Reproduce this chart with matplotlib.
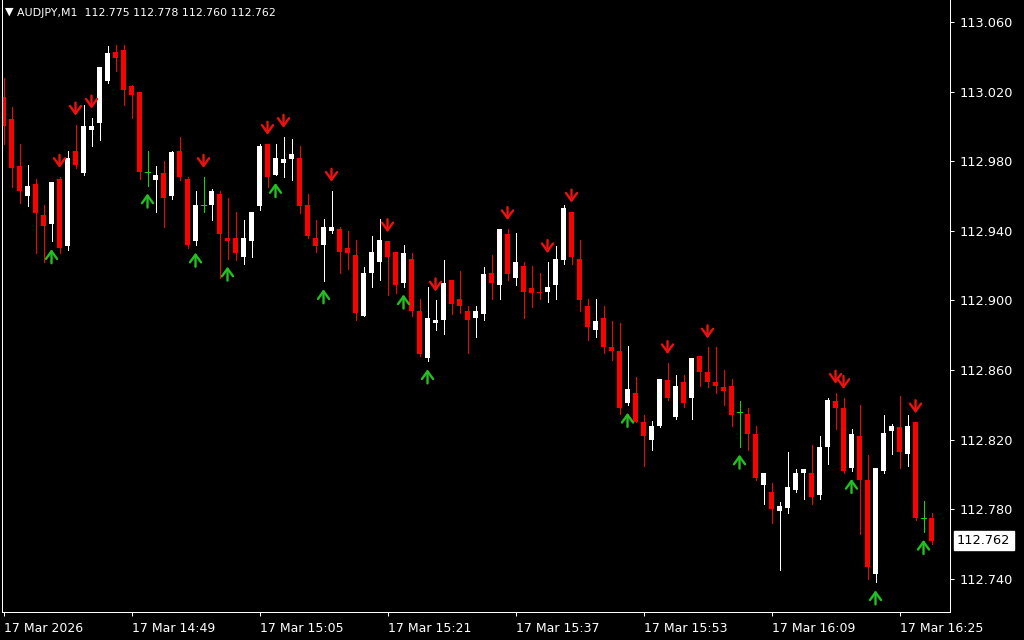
import matplotlib
matplotlib.use('Agg')
import matplotlib.pyplot as plt
import matplotlib.transforms as mtransforms

# AUDJPY M1, 117 bars, 17 Mar 14:33 .. 16:29
opens = [
    113.017, 113.004, 112.977, 112.960, 112.967, 112.949, 112.944, 112.970, 112.931, 112.986,
    112.973, 112.998, 113.002, 113.026, 113.043, 113.044, 113.023, 113.020, 112.974, 112.969,
    112.973, 112.960, 112.986, 112.970, 112.934, 112.955, 112.955, 112.961, 112.936, 112.936,
    112.925, 112.934, 112.954, 112.990, 112.972, 112.979, 112.981, 112.982, 112.955, 112.936,
    112.932, 112.940, 112.941, 112.930, 112.926, 112.891, 112.916, 112.922, 112.934, 112.928,
    112.910, 112.924, 112.894, 112.867, 112.887, 112.889, 112.912, 112.901, 112.894, 112.890,
    112.892, 112.916, 112.909, 112.938, 112.913, 112.920, 112.907, 112.905, 112.905, 112.909,
    112.923, 112.951, 112.924, 112.897, 112.883, 112.890, 112.873, 112.871, 112.841, 112.847,
    112.830, 112.820, 112.828, 112.854, 112.833, 112.853, 112.844, 112.868, 112.859, 112.853,
    112.850, 112.851, 112.836, 112.835, 112.823, 112.794, 112.790, 112.779, 112.781, 112.791,
    112.801, 112.801, 112.788, 112.816, 112.842, 112.838, 112.804, 112.822, 112.797, 112.743,
    112.802, 112.825, 112.827, 112.812, 112.830, 112.775, 112.775]
highs = [
    113.028, 113.011, 112.990, 112.978, 112.970, 112.955, 112.968, 112.971, 112.986, 113.001,
    113.012, 113.005, 113.034, 113.046, 113.047, 113.047, 113.024, 113.020, 112.986, 112.977,
    112.980, 112.986, 112.994, 112.971, 112.963, 112.971, 112.964, 112.963, 112.959, 112.951,
    112.946, 112.951, 112.990, 112.990, 112.990, 112.994, 112.993, 112.989, 112.961, 112.946,
    112.947, 112.963, 112.942, 112.940, 112.935, 112.919, 112.937, 112.947, 112.934, 112.928,
    112.932, 112.927, 112.901, 112.908, 112.900, 112.923, 112.912, 112.917, 112.897, 112.897,
    112.919, 112.926, 112.941, 112.941, 112.939, 112.922, 112.920, 112.916, 112.922, 112.931,
    112.955, 112.951, 112.935, 112.901, 112.901, 112.897, 112.888, 112.887, 112.874, 112.856,
    112.834, 112.831, 112.855, 112.864, 112.857, 112.857, 112.867, 112.868, 112.873, 112.873,
    112.860, 112.855, 112.842, 112.838, 112.828, 112.801, 112.795, 112.784, 112.813, 112.803,
    112.803, 112.817, 112.822, 112.844, 112.847, 112.844, 112.826, 112.840, 112.811, 112.804,
    112.834, 112.829, 112.845, 112.834, 112.830, 112.785, 112.778]
lows = [
    112.990, 112.965, 112.956, 112.954, 112.927, 112.922, 112.934, 112.927, 112.929, 112.976,
    112.972, 112.989, 112.992, 113.025, 113.032, 113.012, 113.005, 112.970, 112.966, 112.951,
    112.942, 112.958, 112.969, 112.930, 112.932, 112.951, 112.946, 112.913, 112.924, 112.923,
    112.921, 112.925, 112.952, 112.965, 112.972, 112.971, 112.969, 112.950, 112.936, 112.928,
    112.911, 112.939, 112.916, 112.918, 112.889, 112.891, 112.908, 112.912, 112.903, 112.904,
    112.908, 112.891, 112.868, 112.865, 112.883, 112.881, 112.892, 112.893, 112.870, 112.879,
    112.889, 112.901, 112.901, 112.912, 112.909, 112.890, 112.896, 112.901, 112.899, 112.901,
    112.921, 112.921, 112.894, 112.877, 112.879, 112.870, 112.866, 112.835, 112.840, 112.830,
    112.805, 112.814, 112.827, 112.843, 112.832, 112.839, 112.832, 112.851, 112.850, 112.847,
    112.840, 112.828, 112.816, 112.814, 112.797, 112.783, 112.772, 112.745, 112.778, 112.790,
    112.786, 112.783, 112.786, 112.806, 112.826, 112.801, 112.802, 112.766, 112.740, 112.738,
    112.801, 112.812, 112.804, 112.805, 112.774, 112.767, 112.760]
closes = [
    113.000, 112.976, 112.963, 112.966, 112.950, 112.943, 112.968, 112.930, 112.982, 112.978,
    113.000, 113.000, 113.034, 113.042, 113.039, 113.021, 113.018, 112.974, 112.974, 112.972,
    112.959, 112.985, 112.971, 112.932, 112.955, 112.955, 112.963, 112.938, 112.934, 112.927,
    112.936, 112.951, 112.989, 112.971, 112.982, 112.981, 112.984, 112.954, 112.937, 112.931,
    112.942, 112.942, 112.928, 112.927, 112.893, 112.916, 112.928, 112.935, 112.925, 112.909,
    112.927, 112.894, 112.869, 112.890, 112.889, 112.910, 112.898, 112.897, 112.889, 112.894,
    112.915, 112.910, 112.941, 112.915, 112.922, 112.905, 112.904, 112.904, 112.908, 112.924,
    112.953, 112.925, 112.900, 112.885, 112.888, 112.873, 112.871, 112.838, 112.849, 112.830,
    112.822, 112.828, 112.855, 112.844, 112.851, 112.841, 112.867, 112.859, 112.853, 112.851,
    112.848, 112.834, 112.836, 112.823, 112.798, 112.801, 112.780, 112.782, 112.793, 112.801,
    112.803, 112.787, 112.816, 112.843, 112.838, 112.802, 112.823, 112.797, 112.747, 112.804,
    112.824, 112.828, 112.813, 112.828, 112.775, 112.775, 112.762]

# indicator signals (bar index)
sell_arrows = [7, 9, 11, 25, 33, 35, 41, 48, 54, 63, 68, 71, 83, 88, 104, 105, 114]
buy_arrows = [6, 18, 24, 28, 34, 40, 50, 53, 78, 92, 106, 109, 115]

price_ticks = [113.060, 113.020, 112.980, 112.940, 112.900, 112.860, 112.820, 112.780, 112.740]
time_bars = [0, 16, 32, 48, 64, 80, 96, 112]
time_labels = ['17 Mar 2026', '17 Mar 14:49', '17 Mar 15:05', '17 Mar 15:21',
               '17 Mar 15:37', '17 Mar 15:53', '17 Mar 16:09', '17 Mar 16:25']
last_price = 112.762

W, H = 1024, 640
fig = plt.figure(figsize=(W / 100, H / 100), dpi=100, facecolor='black')
ax = fig.add_axes([2 / W, 28 / H, 948 / W, 612 / H], facecolor='black')
px = 72 / 100  # one pixel in points

for i in range(len(opens)):
    o, h, l, c = opens[i], highs[i], lows[i], closes[i]
    if c > o:
        col = 'white'
    elif c < o:
        col = '#ff0000'
    else:
        col = '#00e000'
    ax.vlines(i, l, h, color=col, lw=px, antialiased=False)
    if c == o:
        ax.hlines(o, i - 0.3, i + 0.3, color=col, lw=px, antialiased=False)
    else:
        ax.bar(i, abs(c - o), bottom=min(o, c), width=0.65, color=col,
               linewidth=0, antialiased=False)

for i in sell_arrows:
    ax.annotate('', xy=(i, highs[i]), xytext=(0, 22), textcoords='offset pixels',
                arrowprops=dict(arrowstyle='->,head_length=0.55,head_width=0.4',
                                color='#ee1111', lw=1.7, shrinkA=0, shrinkB=9 * px))
for i in buy_arrows:
    ax.annotate('', xy=(i, lows[i]), xytext=(0, -22), textcoords='offset pixels',
                arrowprops=dict(arrowstyle='->,head_length=0.55,head_width=0.4',
                                color='#22c022', lw=1.7, shrinkA=0, shrinkB=8 * px))

ax.set_xlim(-0.1875, 118.31)
ax.set_ylim(112.7210, 113.0726)

for side in ['left', 'right', 'bottom']:
    ax.spines[side].set_color('white')
    ax.spines[side].set_linewidth(px)
ax.spines['top'].set_visible(False)

ax.yaxis.tick_right()
ax.set_yticks(price_ticks)
ax.set_yticklabels(['%.3f' % p for p in price_ticks])
ax.set_xticks(time_bars)
ax.set_xticklabels(time_labels, ha='left')
ax.tick_params(colors='white', labelcolor='white', labelsize=9, length=4 * px, width=px)
ax.tick_params(axis='y', labelsize=9.3, pad=4)
ax.tick_params(axis='x', pad=4)

trans = mtransforms.blended_transform_factory(ax.transAxes, ax.transData)
ax.text(1.0 + 7 / 948, last_price, '%.3f' % last_price, transform=trans, color='black',
        fontsize=9.3, va='center', ha='left',
        bbox=dict(facecolor='white', edgecolor='white', boxstyle='square,pad=0.25'))

fig.text(5 / W, 1 - 12 / H, '\u25bc', color='white', fontsize=8, va='center', ha='left')
fig.text(17 / W, 1 - 13 / H, 'AUDJPY,M1  112.775 112.778 112.760 112.762', color='white',
         fontsize=7.9, va='center', ha='left')

fig.savefig('out.png', dpi=100, facecolor='black')
